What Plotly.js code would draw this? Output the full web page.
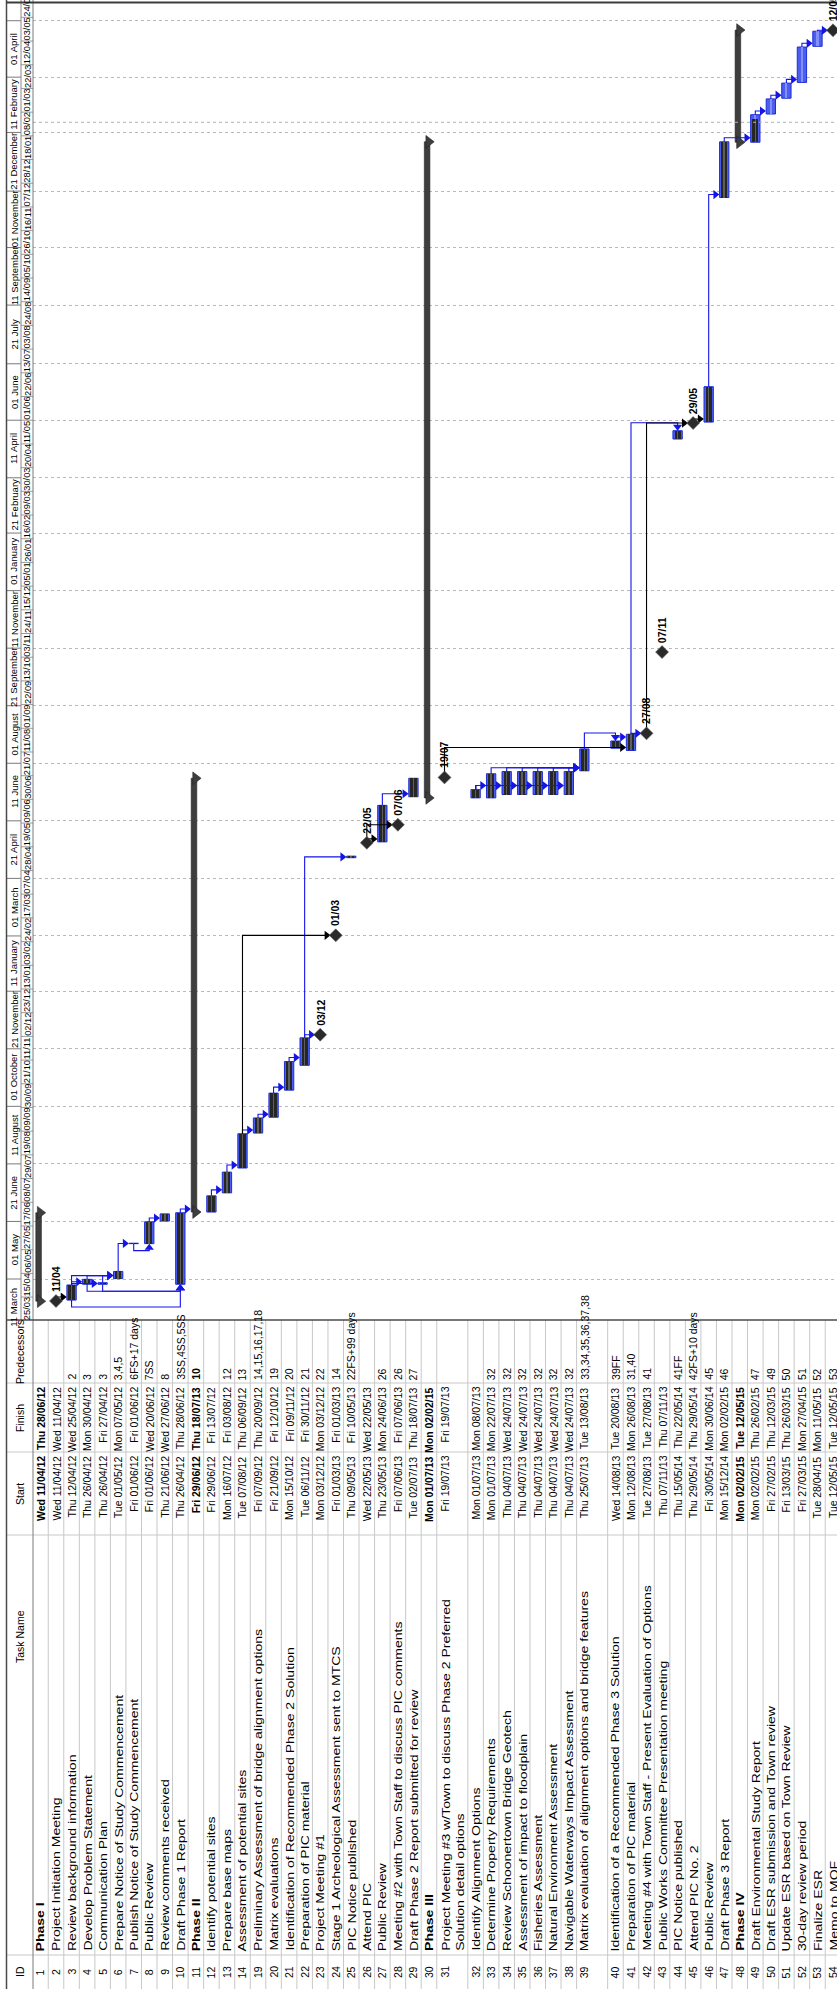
<!DOCTYPE html>
<html>
<head>
<meta charset="utf-8">
<script src="https://cdn.plot.ly/plotly-3.0.1.min.js"></script>
<style>
html,body{margin:0;padding:0;background:#ffffff;}
#chart{width:837px;height:1989px;}
</style>
</head>
<body>
<div id="chart"></div>
<script>
// ================= DATA =================
const taskIds = [1,2,3,4,5,6,7,8,9,10,11,12,13,14,19,20,21,22,23,24,25,26,27,28,29,30,31,32,33,34,35,36,37,38,39,40,41,42,43,44,45,46,47,48,49,50,51,52,53,54];
const taskNames = [
 'Phase I','Project Initiation Meeting','Review background information','Develop Problem Statement','Communication Plan',
 'Prepare Notice of Study Commencement','Publish Notice of Study Commencement','Public Review','Review comments received','Draft Phase 1 Report',
 'Phase II','Identify potential sites','Prepare base maps','Assessment of potential sites','Preliminary Assessment of bridge alignment options',
 'Matrix evaluations','Identification of Recommended Phase 2 Solution','Preparation of PIC material','Project Meeting #1','Stage 1 Archeological Assessment sent to MTCS',
 'PIC Notice published','Attend PIC','Public Review','Meeting #2 with Town Staff to discuss PIC comments','Draft Phase 2 Report submitted for review',
 'Phase III','Project Meeting #3 w/Town to discuss Phase 2 Preferred Solution detail options','Identify Alignment Options','Determine Property Requirements','Review Schoonertown Bridge Geotech',
 'Assessment of impact to floodplain','Fisheries Assessment','Natural Environment Assessment','Navigable Waterways Impact Assessment','Matrix evaluation of alignment options and bridge features',
 'Identification of a Recommended Phase 3 Solution','Preparation of PIC material','Meeting #4 with Town Staff - Present Evaluation of Options','Public Works Committee Presentation meeting','PIC Notice published',
 'Attend PIC No. 2','Public Review','Draft Phase 3 Report','Phase IV','Draft Environmental Study Report',
 'Draft ESR submission and Town review','Update ESR based on Town Review','30-day review period','Finalize ESR','Memo to MOF'
];
const taskStarts = [
 '2012-04-11','2012-04-11','2012-04-12','2012-04-26','2012-04-26','2012-05-01','2012-06-01','2012-06-01','2012-06-21','2012-04-26',
 '2012-06-29','2012-06-29','2012-07-16','2012-08-07','2012-09-07','2012-09-21','2012-10-15','2012-11-06','2012-12-03','2013-03-01',
 '2013-05-09','2013-05-22','2013-05-23','2013-06-07','2013-07-02','2013-07-01','2013-07-19','2013-07-01','2013-07-01','2013-07-04',
 '2013-07-04','2013-07-04','2013-07-04','2013-07-04','2013-07-25','2013-08-14','2013-08-12','2013-08-27','2013-11-07','2014-05-15',
 '2014-05-29','2014-05-30','2014-12-15','2015-02-02','2015-02-02','2015-02-27','2015-03-13','2015-03-27','2015-04-28','2015-05-12'
];
const taskFinishes = [
 '2012-06-28','2012-04-11','2012-04-25','2012-04-30','2012-04-27','2012-05-07','2012-06-01','2012-06-20','2012-06-27','2012-06-28',
 '2013-07-18','2012-07-13','2012-08-03','2012-09-06','2012-09-20','2012-10-12','2012-11-09','2012-11-30','2012-12-03','2013-03-01',
 '2013-05-10','2013-05-22','2013-06-24','2013-06-07','2013-07-18','2015-02-02','2013-07-19','2013-07-08','2013-07-22','2013-07-24',
 '2013-07-24','2013-07-24','2013-07-24','2013-07-24','2013-08-13','2013-08-20','2013-08-26','2013-08-27','2013-11-07','2014-05-22',
 '2014-05-29','2014-06-30','2015-02-02','2015-05-12','2015-02-26','2015-03-12','2015-03-26','2015-04-27','2015-05-11','2015-05-12'
];
const taskPredecessors = [
 '','','2','3','3','3,4,5','6FS+17 days','7SS','8','3SS,4SS,5SS',
 '10','','12','13','14,15,16,17,18','19','20','21','22','14',
 '22FS+99 days','','26','26','27','','','','32','32',
 '32','32','32','32','33,34,35,36,37,38','39FF','31,40','41','','41FF',
 '42FS+10 days','45','46','','47','49','50','51','52','53'
];
const taskKinds = [
 'summary','milestone','task','task','task','task','task','task','task','task',
 'summary','task','task','task','task','task','task','task','milestone','milestone',
 'task','milestone','task','milestone','task','summary','milestone','task','task','task',
 'task','task','task','task','task','task','task','milestone','milestone','task',
 'milestone','task','task','summary','task','task','task','task','task','milestone'
];
const percentComplete = [
 100,100,100,100,100,100,100,100,100,100,
 100,100,100,100,100,100,100,100,100,100,
 100,100,100,100,100,100,100,100,100,100,
 100,100,100,100,100,100,100,100,100,100,
 100,100,100,20,85,0,0,0,0,0
];
const criticalTasks = [
 true,false,true,true,true,true,true,true,true,true,
 true,true,true,true,true,true,true,true,true,false,
 true,false,true,true,true,true,false,true,true,true,
 true,true,true,true,true,true,true,true,true,true,
 false,true,true,true,true,true,true,true,true,true
];
const topTierDates = ['2012-03-11','2012-05-01','2012-06-21','2012-08-11','2012-10-01','2012-11-21','2013-01-11','2013-03-01',
 '2013-04-21','2013-06-11','2013-08-01','2013-09-21','2013-11-11','2014-01-01','2014-02-21','2014-04-11','2014-06-01',
 '2014-07-21','2014-09-11','2014-11-01','2014-12-21','2015-02-11','2015-04-01','2015-05-21','2015-07-11'];
const topTierLabels = ['11 March','01 May','21 June','11 August','01 October','21 November','11 January','01 March',
 '21 April','11 June','01 August','21 September','11 November','01 January','21 February','11 April','01 June',
 '21 July','11 September','01 November','21 December','11 February','01 April','21 May'];
const bottomTierDates = ['2012-03-25','2012-04-15','2012-05-06','2012-05-27','2012-06-17','2012-07-08','2012-07-29','2012-08-19',
 '2012-09-09','2012-09-30','2012-10-21','2012-11-11','2012-12-02','2012-12-23','2013-01-13','2013-02-03','2013-02-24',
 '2013-03-17','2013-04-07','2013-04-28','2013-05-19','2013-06-09','2013-06-30','2013-07-21','2013-08-11','2013-09-01',
 '2013-09-22','2013-10-13','2013-11-03','2013-11-24','2013-12-15','2014-01-05','2014-01-26','2014-02-16','2014-03-09',
 '2014-03-30','2014-04-20','2014-05-11','2014-06-01','2014-06-22','2014-07-13','2014-08-03','2014-08-24','2014-09-14',
 '2014-10-05','2014-10-26','2014-11-16','2014-12-07','2014-12-28','2015-01-18','2015-02-08','2015-03-01','2015-03-22',
 '2015-04-12','2015-05-03','2015-05-24','2015-06-14'];
const statusDate = '2015-02-20';
const tableHeaders = ['ID','Task Name','Start','Finish','Predecessors'];

// ================= LAYOUT CONSTANTS =================
const FIG_W = 837, FIG_H = 1989;
const FONT = 'Liberation Sans, Arial, sans-serif';
const DAY = 86400000, HOUR = 3600000;
const ROW0 = 32.7, ROW_P = 15.54;
const CHART_BOTTOM = 1320;
const PX_PER_DAY = 1.1285;
const REF_MS = Date.UTC(2012,4,1), REF_PX = 1279;
const ROW_SPAN = {31:2, 39:2};
const COLS = {pred:[1320,1383], finish:[1383,1452], start:[1452,1535], name:[1535,1955], id:[1955,1989]};
const HEADER_Y = {ID:1972, 'Task Name':1637, Start:1494, Finish:1418, Predecessors:1352};
const TABLE_FONT = 10.5, NAME_FONT = 10.8, NAME_STRETCH = 1.3;
const BLUE_LINK = '#1414e6';

function ms(s){ const p = s.split('-').map(Number); return Date.UTC(p[0], p[1]-1, p[2]); }
function pxToMs(px){ return REF_MS + (REF_PX - px)/PX_PER_DAY*DAY; }
function pxToU(px){ return (px - ROW0)/ROW_P; }
function xp(px){ return px/FIG_W; }
function yp(px){ return 1 - px/FIG_H; }
const PX_MS = DAY/PX_PER_DAY, PX_U = 1/ROW_P;
const pad2 = n => (n<10?'0':'')+n;
const DOW = ['Sun','Mon','Tue','Wed','Thu','Fri','Sat'];
function fmtDate(s){ const d = new Date(ms(s)); return DOW[d.getUTCDay()]+' '+pad2(d.getUTCDate())+'/'+pad2(d.getUTCMonth()+1)+'/'+String(d.getUTCFullYear()).slice(2); }
function fmtShort(s){ const d = new Date(ms(s)); return pad2(d.getUTCDate())+'/'+pad2(d.getUTCMonth()+1); }

const rowC = [], rowBlockC = [], idx = {};
let uAcc = 0;
taskIds.forEach((id,i)=>{ idx[id]=i; rowC.push(uAcc+0.5); const s = ROW_SPAN[id]||1; rowBlockC.push(uAcc+s/2); uAcc += s; });

function tStart(i){ return taskKinds[i]==='milestone' ? ms(taskStarts[i])+12*HOUR : ms(taskStarts[i])+8*HOUR; }
function tEnd(i){ return taskKinds[i]==='milestone' ? ms(taskFinishes[i])+12*HOUR : ms(taskFinishes[i])+17*HOUR; }
function halfW(i){ return taskKinds[i]==='summary' ? 0.2 : taskKinds[i]==='milestone' ? 0.33 : 0.31; }

// ================= TRACES =================
const traces = [];
const all = taskIds.map((_,i)=>i);
const T = all.filter(i=>taskKinds[i]==='task');
const S = all.filter(i=>taskKinds[i]==='summary');
const M = all.filter(i=>taskKinds[i]==='milestone');
const P = T.filter(i=>percentComplete[i]>0);

traces.push({type:'bar', x:T.map(i=>rowC[i]), base:T.map(tStart), y:T.map(i=>tEnd(i)-tStart(i)), width:0.6,
  marker:{color:'#4c5ef0', line:{color:'#1c2ed4', width:1}}, hoverinfo:'skip'});
traces.push({type:'bar', x:T.map(i=>rowC[i]), base:T.map(tStart), y:T.map(i=>tEnd(i)-tStart(i)), width:0.14,
  marker:{color:'#8290f7', line:{width:0}}, hoverinfo:'skip'});
traces.push({type:'bar', x:P.map(i=>rowC[i]), base:P.map(tStart), y:P.map(i=>(tEnd(i)-tStart(i))*percentComplete[i]/100), width:0.4,
  marker:{color:'#262626', line:{width:0}}, hoverinfo:'skip'});
traces.push({type:'bar', x:P.map(i=>rowC[i]), base:P.map(tStart), y:P.map(i=>(tEnd(i)-tStart(i))*percentComplete[i]/100), width:0.1,
  marker:{color:'#5e5e5e', line:{width:0}}, hoverinfo:'skip'});
traces.push({type:'bar', x:S.map(i=>rowC[i]-0.12), base:S.map(tStart), y:S.map(i=>tEnd(i)-tStart(i)), width:0.36,
  marker:{color:'#3e3e3e', line:{color:'#222', width:0.6}}, hoverinfo:'skip'});
traces.push({type:'scatter', mode:'markers', x:S.map(i=>rowC[i]-0.02).concat(S.map(i=>rowC[i]-0.02)), y:S.map(tStart).concat(S.map(tEnd)),
  marker:{symbol:'triangle-right', size:11, color:'#3e3e3e', line:{color:'#222', width:0.6}}, hoverinfo:'skip'});

const links = [];
taskPredecessors.forEach((str, si)=>{
  if(!str) return;
  str.split(',').forEach(tok=>{
    const m = tok.trim().match(/^(\d+)(FS|SS|FF|SF)?/);
    if(!m) return;
    const pid = +m[1];
    if(!(pid in idx)) return;
    links.push({p:idx[pid], s:si, type:m[2]||'FS'});
  });
});
const LL = {blue:{x:[],y:[]}, black:{x:[],y:[]}};
const LA = {blue:{x:[],y:[],s:[]}, black:{x:[],y:[],s:[]}};
links.forEach(L=>{
  const col = (criticalTasks[L.p] && criticalTasks[L.s]) ? 'blue' : 'black';
  const xP = rowC[L.p], xS = rowC[L.s] + (taskKinds[L.s]==='summary' ? -0.12 : 0);
  let pts, arr;
  if(L.type==='SS'){
    const ps = tStart(L.p), ss = tStart(L.s);
    const yLow = Math.min(ps, ss) - 7*PX_MS, tip = ss - 4*PX_MS;
    pts = [[xP,ps],[xP,yLow],[xS,yLow],[xS,tip]]; arr = [xS,tip,'triangle-up'];
  } else if(L.type==='FF'){
    const pe = tEnd(L.p), se = tEnd(L.s);
    const yHigh = Math.max(pe,se) + 8*PX_MS, tip = se + 4*PX_MS;
    pts = [[xP,pe],[xP,yHigh],[xS,yHigh],[xS,tip]]; arr = [xS,tip,'triangle-down'];
  } else {
    const pe = tEnd(L.p), ss = tStart(L.s), se = tEnd(L.s);
    let yLine;
    if(taskKinds[L.s]==='milestone') yLine = ss;
    else if(ss >= pe) yLine = ss + Math.min(3*PX_MS, (se-ss)/2);
    else yLine = pe + 4*PX_MS;
    const xa = xS - halfW(L.s) - 4*PX_U;
    pts = [[xP,pe],[xP,yLine],[xa,yLine]]; arr = [xa,yLine,'triangle-right'];
  }
  pts.forEach(p=>{ LL[col].x.push(p[0]); LL[col].y.push(p[1]); });
  LL[col].x.push(null); LL[col].y.push(null);
  LA[col].x.push(arr[0]); LA[col].y.push(arr[1]); LA[col].s.push(arr[2]);
});
[['blue',BLUE_LINK],['black','#000000']].forEach(([k,c])=>{
  traces.push({type:'scatter', mode:'lines', x:LL[k].x, y:LL[k].y, line:{color:c, width:1.1}, connectgaps:false, hoverinfo:'skip'});
  traces.push({type:'scatter', mode:'markers', x:LA[k].x, y:LA[k].y, marker:{symbol:LA[k].s, size:8, color:c, line:{width:0}}, hoverinfo:'skip'});
});
traces.push({type:'scatter', mode:'markers', x:M.map(i=>rowC[i]), y:M.map(tStart),
  marker:{symbol:'diamond', size:10, color:'#2a2a2a', line:{color:'#6a6a6a', width:0.6}}, hoverinfo:'skip'});

// ================= SHAPES & ANNOTATIONS =================
const shapes = [], annotations = [];
const yR = [pxToMs(CHART_BOTTOM), pxToMs(0)];
function hline(yPx, x0, x1, color, w){ shapes.push({type:'line', xref:'paper', yref:'paper', x0:xp(x0), x1:xp(x1), y0:yp(yPx), y1:yp(yPx), line:{color, width:w}}); }
function vline(xPx, y0, y1, color, w){ shapes.push({type:'line', xref:'paper', yref:'paper', x0:xp(xPx), x1:xp(xPx), y0:yp(y0), y1:yp(y1), line:{color, width:w}}); }

shapes.push({type:'line', xref:'paper', yref:'y', x0:xp(33), x1:1, y0:ms(statusDate), y1:ms(statusDate), line:{color:'#b0b0b0', width:1, dash:'dot'}});

topTierDates.forEach(d=>{ const v = ms(d); if(v>yR[0] && v<yR[1]) shapes.push({type:'line', xref:'paper', yref:'y', x0:xp(7), x1:xp(21), y0:v, y1:v, line:{color:'#7a7a7a', width:1}}); });
bottomTierDates.forEach(d=>{ const v = ms(d); if(v>yR[0] && v<yR[1]) shapes.push({type:'line', xref:'paper', yref:'y', x0:xp(21), x1:xp(33), y0:v, y1:v, line:{color:'#9a9a9a', width:1}}); });
for(let k=0;k<topTierLabels.length;k++){
  const mid = (ms(topTierDates[k])+ms(topTierDates[k+1]))/2;
  annotations.push({xref:'paper', yref:'y', x:xp(14), y:mid, text:topTierLabels[k], textangle:-90, showarrow:false,
    xanchor:'center', yanchor:'middle', font:{family:FONT, size:9.5, color:'#000'}, borderpad:0});
}
for(let k=0;k<bottomTierDates.length-1;k++){
  const mid = (ms(bottomTierDates[k])+ms(bottomTierDates[k+1]))/2;
  annotations.push({xref:'paper', yref:'y', x:xp(27.3), y:mid, text:fmtShort(bottomTierDates[k]), textangle:-90, showarrow:false,
    xanchor:'center', yanchor:'middle', font:{family:FONT, size:9.3, color:'#000'}, borderpad:0});
}
M.forEach(i=>{
  annotations.push({xref:'x', yref:'y', x:rowC[i], y:tStart(i), text:'<b>'+fmtShort(taskFinishes[i])+'</b>', textangle:-90, showarrow:false,
    xanchor:'center', yanchor:'bottom', yshift:8, font:{family:FONT, size:10.5, color:'#000'}, borderpad:0});
});

let acc = 0;
taskIds.forEach(id=>{ acc += ROW_SPAN[id]||1; const x = ROW0 + ROW_P*acc; if(x < FIG_W) vline(x, CHART_BOTTOM, FIG_H, '#c8c8c8', 1); });
[COLS.pred[1], COLS.finish[1], COLS.start[1], COLS.name[1]].forEach(y=>hline(y, 7, FIG_W, '#c8c8c8', 1));
vline(21, 0, CHART_BOTTOM, '#8a8a8a', 1);
vline(33, 0, FIG_H, '#7a7a7a', 1);
vline(6.5, 0, FIG_H, '#4a4a4a', 1.5);
hline(2.5, 6, FIG_W, '#3c3c3c', 2);
hline(CHART_BOTTOM, 6, FIG_W, '#4a4a4a', 1.5);

tableHeaders.forEach(h=>annotations.push({xref:'paper', yref:'paper', x:xp(20), y:yp(HEADER_Y[h]), text:h, textangle:-90, showarrow:false,
  xanchor:'center', yanchor:'middle', font:{family:FONT, size:TABLE_FONT, color:'#000'}, borderpad:0}));

const nameAnn = [];
function cell(i, text, yPx, anchor, bold, xc, size){
  annotations.push({xref:'x', yref:'paper', x:xc!==undefined?xc:rowC[i], y:yp(yPx), text: bold?'<b>'+text+'</b>':text, textangle:-90, showarrow:false,
    xanchor:'center', yanchor:anchor, align:'left', font:{family:FONT, size:size||TABLE_FONT, color:'#000'}, borderpad:0});
  return annotations.length-1;
}
taskIds.forEach((id,i)=>{
  const bold = taskKinds[i]==='summary';
  cell(i, String(id), (COLS.id[0]+COLS.id[1])/2, 'middle', false);
  let name = taskNames[i], xc;
  if((ROW_SPAN[id]||1)===2 && name.length>60){
    const cut = name.lastIndexOf(' ', 55);
    name = name.slice(0,cut)+'<br>'+name.slice(cut+1);
    xc = rowBlockC[i];
  }
  nameAnn.push(cell(i, name, COLS.name[1]-3, 'bottom', bold, xc, NAME_FONT));
  cell(i, fmtDate(taskStarts[i]), COLS.start[0]+3, 'top', bold);
  cell(i, fmtDate(taskFinishes[i]), COLS.finish[0]+3, 'top', bold);
  if(taskPredecessors[i]) cell(i, taskPredecessors[i], COLS.pred[1]-2, 'bottom', bold);
});

const layout = {
  width:FIG_W, height:FIG_H, margin:{l:0,r:0,t:0,b:0}, paper_bgcolor:'#ffffff', plot_bgcolor:'#ffffff',
  showlegend:false, barmode:'overlay', bargap:0,
  xaxis:{domain:[xp(33),1], range:[pxToU(33), pxToU(FIG_W)], visible:false, fixedrange:true},
  yaxis:{domain:[yp(CHART_BOTTOM),1], range:yR, type:'date', showgrid:true, gridcolor:'#b8b8b8', griddash:'dot', gridwidth:1,
    tickvals:topTierDates.map(ms), showticklabels:false, ticks:'', zeroline:false, showline:false, fixedrange:true},
  shapes, annotations
};
Plotly.newPlot('chart', traces, layout, {staticPlot:true, displayModeBar:false}).then(()=>{
  // the task-name column of the reference print is horizontally widened: stretch those texts along their reading direction
  nameAnn.forEach(k=>{
    const t = document.querySelector('g.annotation[data-index="'+k+'"] text.annotation-text');
    if(t){ t.style.transformBox = 'fill-box'; t.style.transformOrigin = '0% 50%'; t.style.transform = 'scaleX('+NAME_STRETCH+')'; }
  });
});
</script>
</body>
</html>
